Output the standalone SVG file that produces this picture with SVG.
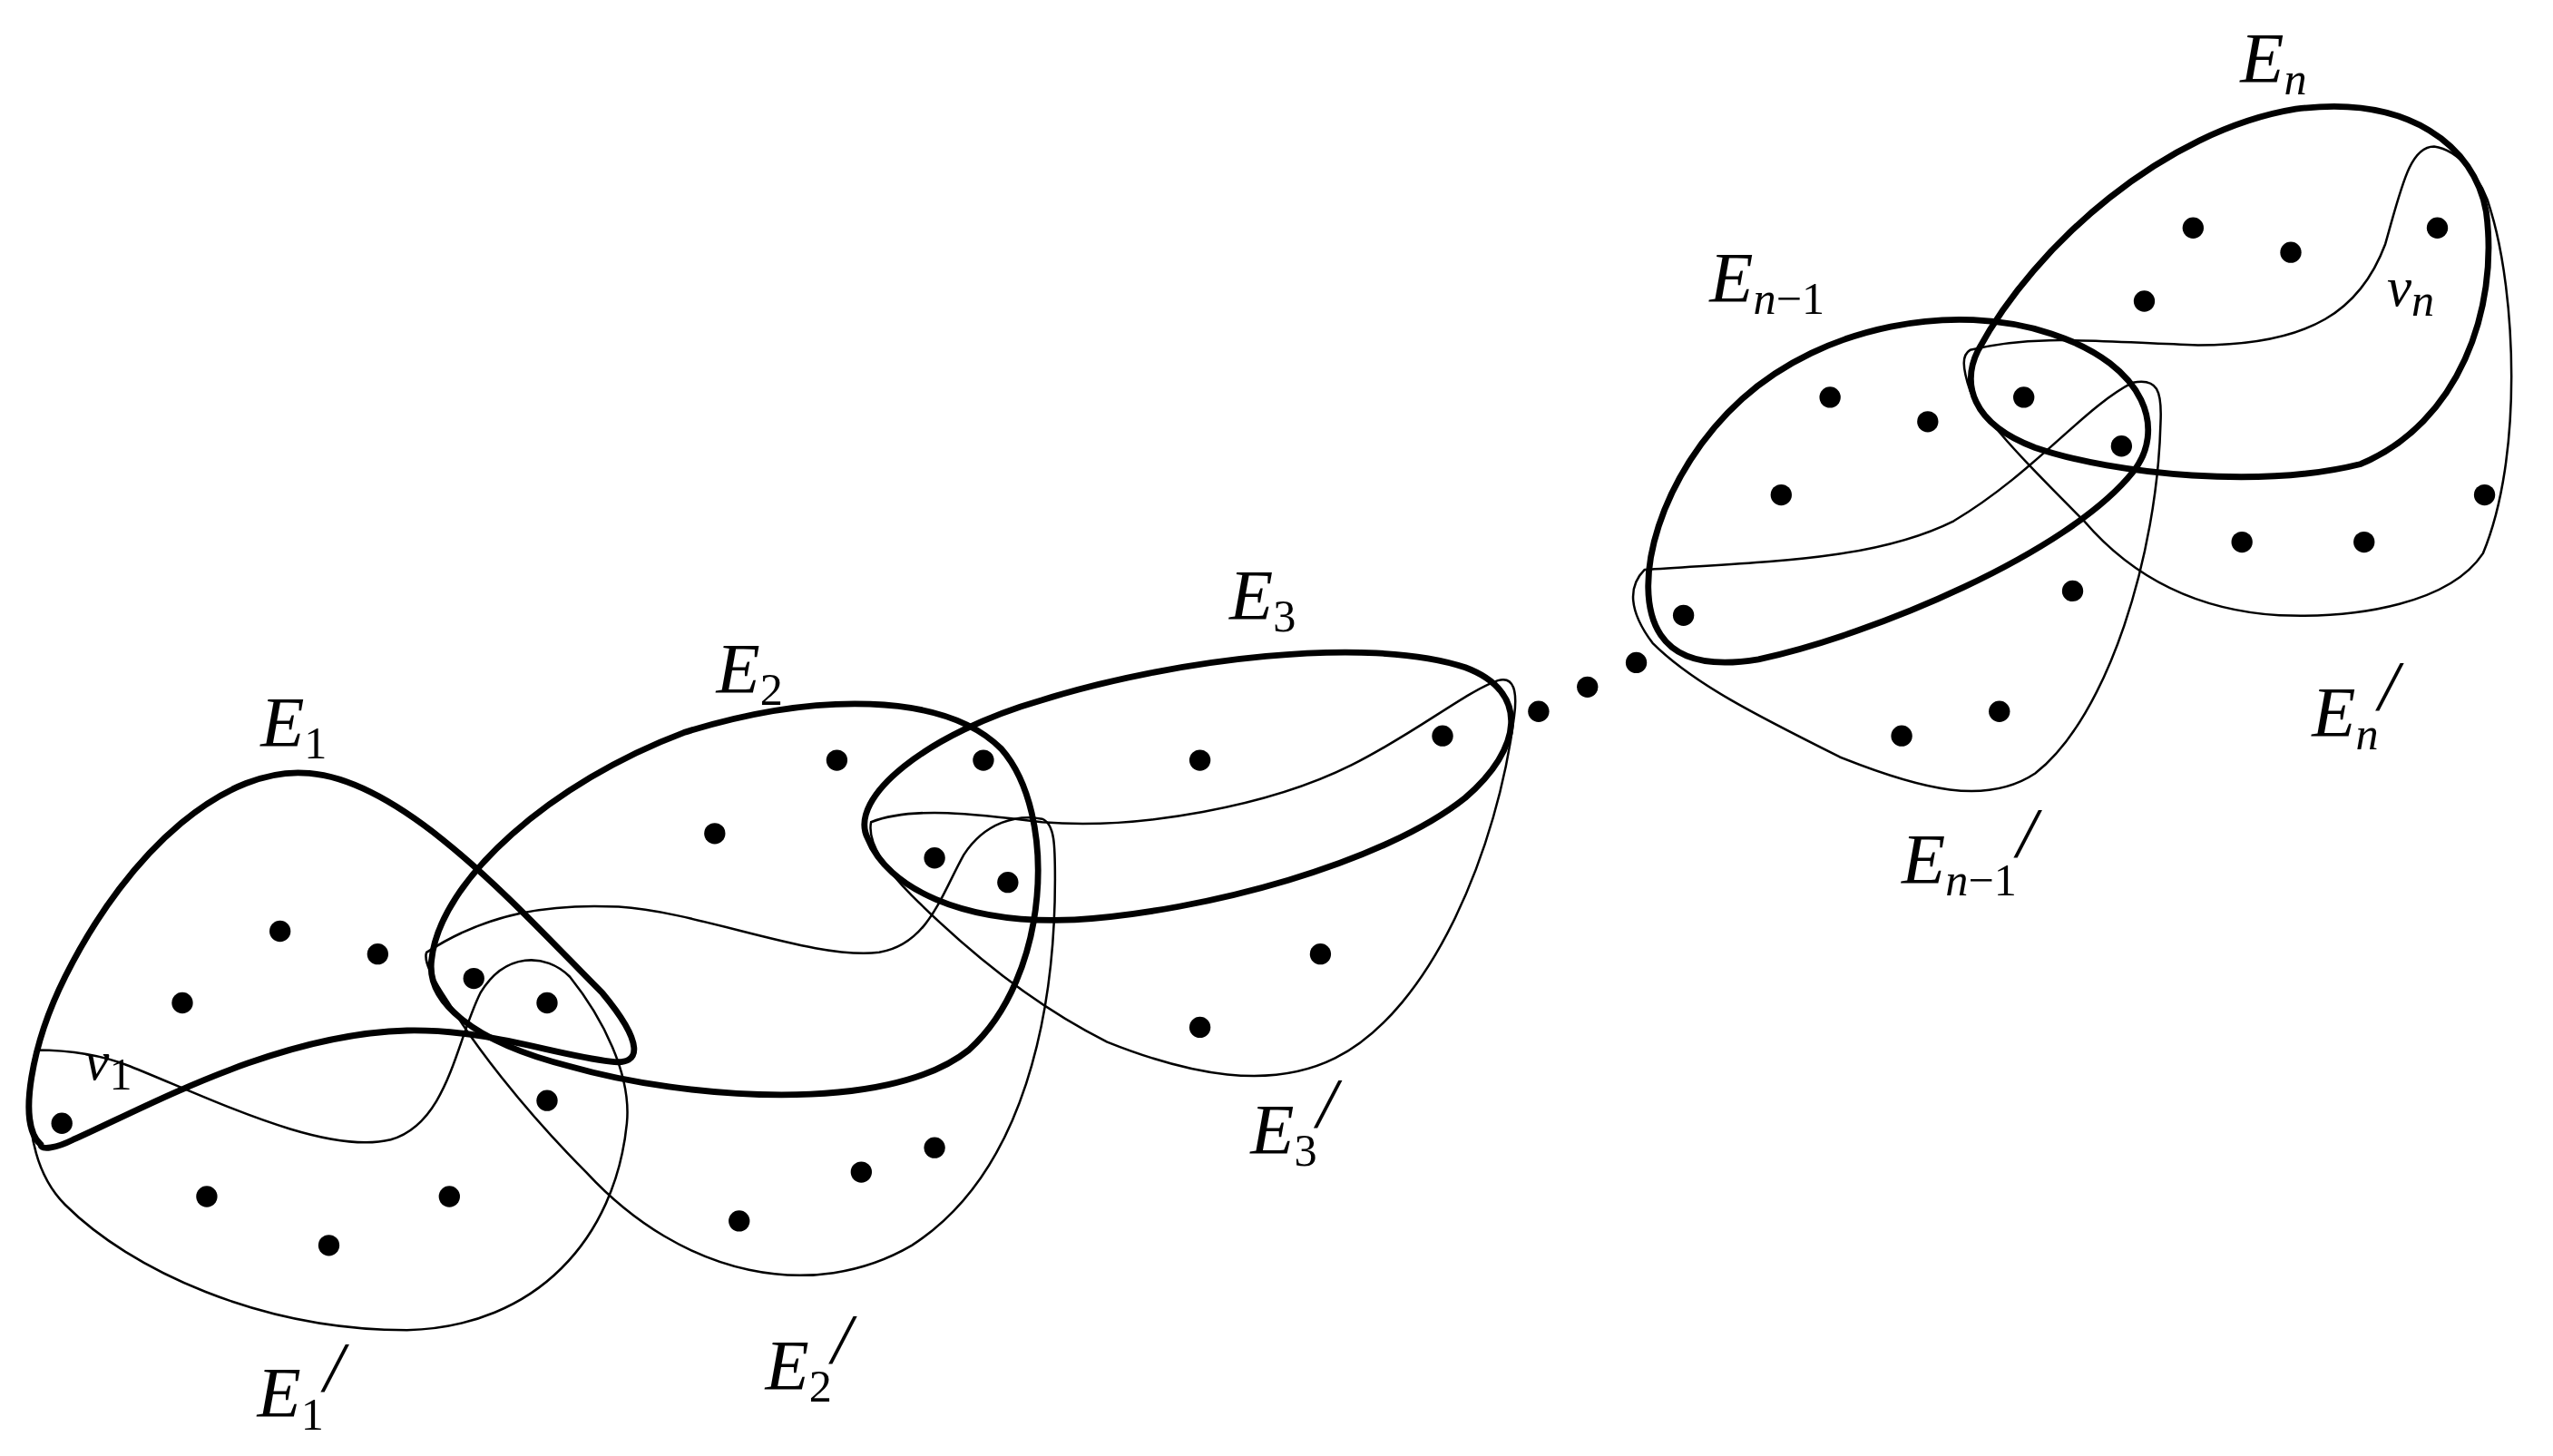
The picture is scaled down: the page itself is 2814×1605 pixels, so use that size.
<svg xmlns="http://www.w3.org/2000/svg" width="2814" height="1605" viewBox="0 0 2814 1605">
<style>
.thick{fill:none;stroke:#000;stroke-width:3.8}
.thin{fill:none;stroke:#000;stroke-width:1.4}
.d{fill:#000}
.lb{font-family:"Liberation Serif",serif;font-style:italic;font-size:44px;fill:#000}
.sb{font-size:28px;font-style:normal}
.sbi{font-size:28px}
</style>
<rect width="2814" height="1605" fill="#fff"/>
<g transform="scale(1.7946)">
<g id="connectors"></g>
<g id="E1">
<path class="thick" d="M25,703 C10,690 20,640 40,600 C80,520 140,470 190,475 C250,480 320,560 370,610 C395,640 395,655 375,652 C340,648 300,632 250,633 C170,635 90,680 45,700 C35,705 25,707 25,703 Z"/>
<text class="lb" x="160" y="458">E<tspan class="sb" dy="8">1</tspan></text>
</g>
<g id="E1p">
<path class="thin" d="M22,645 C40,645 60,647 80,655 C130,675 200,710 240,700 C275,690 280,640 295,610 C310,585 335,585 350,600 C370,625 388,660 385,690 C378,760 330,815 250,817 C160,817 80,780 40,740 C15,715 15,670 22,645 Z"/>
<text class="lb" x="158" y="870">E<tspan class="sb" dy="8">1</tspan><tspan dy="-24">/</tspan></text>
</g>
<g id="E2">
<path class="thick" d="M265,590 C270,540 340,480 420,450 C500,425 580,425 615,460 C650,500 645,600 595,645 C545,685 420,675 350,655 C290,640 262,615 265,590 Z"/>
<text class="lb" x="440" y="425">E<tspan class="sb" dy="8">2</tspan></text>
</g>
<g id="E2p">
<path class="thin" d="M262,585 C300,560 340,555 380,557 C430,560 500,590 540,585 C570,580 578,550 592,525 C605,505 625,500 640,503 C648,506 648,520 648,540 C648,620 630,720 560,765 C500,800 420,785 360,720 C320,680 290,640 275,615 C265,600 260,590 262,585 Z"/>
<text class="lb" x="470" y="853">E<tspan class="sb" dy="8">2</tspan><tspan dy="-24">/</tspan></text>
</g>
<g id="E3">
<path class="thick" d="M533,515 C520,490 570,450 640,430 C720,405 840,390 900,410 C940,425 935,460 900,490 C850,530 740,560 660,565 C590,568 545,545 533,515 Z"/>
<text class="lb" x="755" y="380">E<tspan class="sb" dy="8">3</tspan></text>
</g>
<g id="E3p">
<path class="thin" d="M535,505 C560,495 600,500 640,505 C700,510 780,495 830,470 C870,450 900,425 920,418 C930,415 932,425 930,440 C920,520 880,620 820,650 C780,670 730,660 680,640 C630,615 590,580 560,550 C540,530 533,515 535,505 Z"/>
<text class="lb" x="768" y="708">E<tspan class="sb" dy="8">3</tspan><tspan dy="-24">/</tspan></text>
</g>
<g id="En1">
<path class="thick" d="M1020,390 C1000,360 1020,290 1070,245 C1120,200 1200,185 1260,205 C1320,225 1330,265 1310,290 C1270,340 1150,390 1080,405 C1050,410 1030,405 1020,390 Z"/>
<text class="lb" x="1050" y="185">E<tspan class="sbi" dy="8">n</tspan><tspan class="sb">−1</tspan></text>
</g>
<g id="En1p">
<path class="thin" d="M1010,350 C1080,345 1150,345 1200,320 C1250,290 1280,250 1310,235 C1325,232 1328,240 1327,260 C1325,340 1295,440 1250,475 C1220,495 1180,485 1130,465 C1080,440 1040,420 1015,395 C1000,375 1000,360 1010,350 Z"/>
<text class="lb" x="1168" y="542">E<tspan class="sbi" dy="8">n</tspan><tspan class="sb">−1</tspan><tspan dy="-24">/</tspan></text>
</g>
<g id="En">
<path class="thick" d="M1215,215 C1250,150 1330,80 1410,67 C1480,58 1520,90 1527,130 C1535,190 1510,260 1450,285 C1390,300 1300,292 1250,275 C1210,260 1205,235 1215,215 Z"/>
<text class="lb" x="1376" y="50">E<tspan class="sbi" dy="8">n</tspan></text>
</g>
<g id="Enp">
<path class="thin" d="M1210,215 C1250,205 1290,210 1350,212 C1420,212 1450,190 1465,150 C1475,115 1480,90 1495,90 C1510,92 1525,110 1530,130 C1545,180 1550,280 1525,340 C1505,370 1450,380 1400,378 C1350,375 1310,355 1280,320 C1250,290 1220,260 1210,240 C1205,225 1205,218 1210,215 Z"/>
<text class="lb" x="1420" y="452">E<tspan class="sbi" dy="8">n</tspan><tspan dy="-24">/</tspan></text>
</g>
<g id="labels">
<text class="lb" x="52" y="663" style="font-size:34px">v<tspan class="sb" dy="6">1</tspan></text>
<text class="lb" x="1466" y="188" style="font-size:34px">v<tspan class="sbi" dy="6">n</tspan></text>
</g>
<g id="dots" class="d">
<circle cx="172" cy="572" r="6.5"/><circle cx="232" cy="586" r="6.5"/><circle cx="112" cy="616" r="6.5"/><circle cx="38" cy="690" r="6.5"/><circle cx="127" cy="735" r="6.5"/><circle cx="202" cy="765" r="6.5"/><circle cx="276" cy="735" r="6.5"/><circle cx="291" cy="601" r="6.5"/><circle cx="336" cy="616" r="6.5"/><circle cx="336" cy="676" r="6.5"/>
<circle cx="439" cy="512" r="6.5"/><circle cx="514" cy="467" r="6.5"/><circle cx="604" cy="467" r="6.5"/><circle cx="574" cy="527" r="6.5"/><circle cx="619" cy="542" r="6.5"/><circle cx="454" cy="750" r="6.5"/><circle cx="529" cy="720" r="6.5"/><circle cx="574" cy="705" r="6.5"/>
<circle cx="737" cy="467" r="6.5"/><circle cx="886" cy="452" r="6.5"/><circle cx="811" cy="586" r="6.5"/><circle cx="737" cy="631" r="6.5"/>
<circle cx="945" cy="437" r="6.5"/><circle cx="975" cy="422" r="6.5"/><circle cx="1005" cy="407" r="6.5"/>
<circle cx="1124" cy="244" r="6.5"/><circle cx="1184" cy="259" r="6.5"/><circle cx="1094" cy="304" r="6.5"/><circle cx="1034" cy="378" r="6.5"/><circle cx="1243" cy="244" r="6.5"/><circle cx="1303" cy="274" r="6.5"/><circle cx="1273" cy="363" r="6.5"/><circle cx="1228" cy="437" r="6.5"/><circle cx="1168" cy="452" r="6.5"/>
<circle cx="1347" cy="140" r="6.5"/><circle cx="1407" cy="155" r="6.5"/><circle cx="1317" cy="185" r="6.5"/><circle cx="1497" cy="140" r="6.5"/><circle cx="1526" cy="304" r="6.5"/><circle cx="1452" cy="333" r="6.5"/><circle cx="1377" cy="333" r="6.5"/>
</g>
</g>
</svg>
